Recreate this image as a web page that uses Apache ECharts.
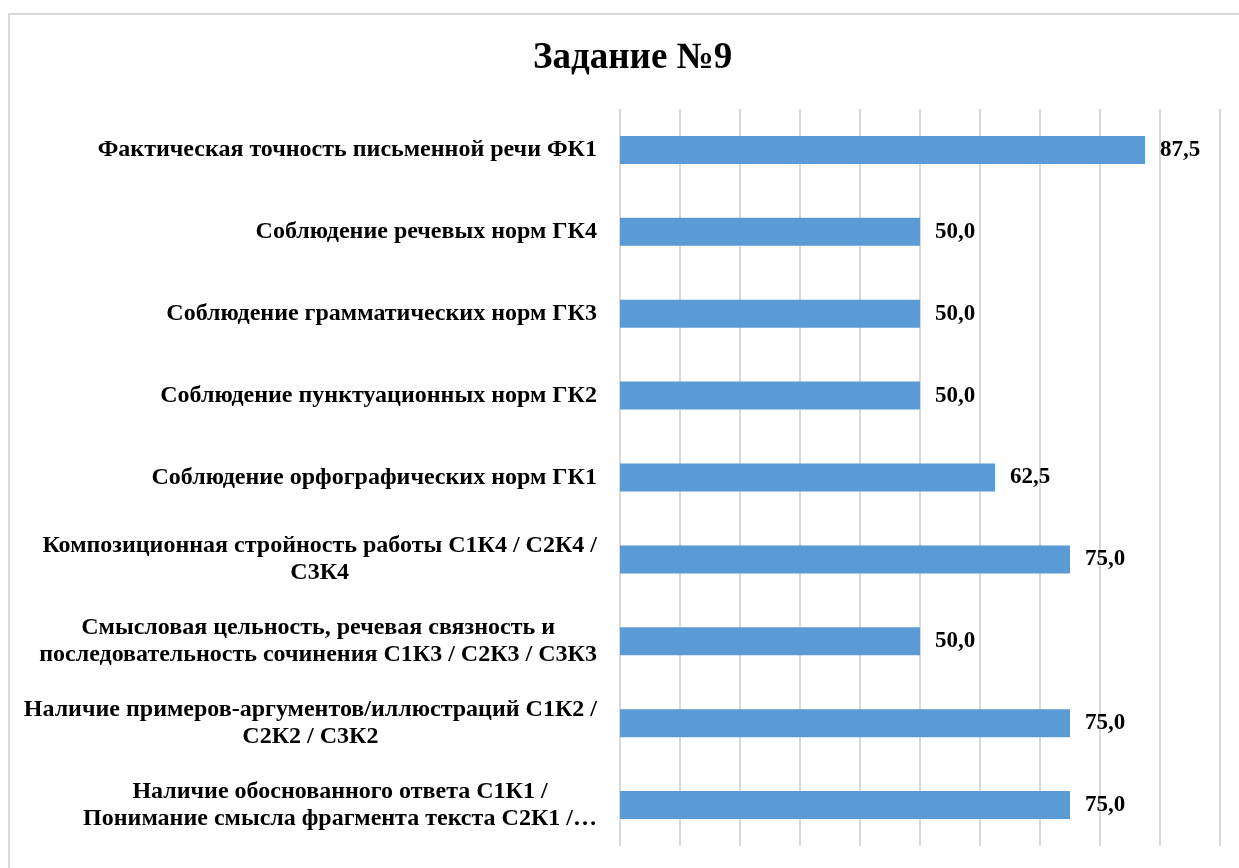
<!DOCTYPE html>
<html lang="ru">
<head>
    <meta charset="UTF-8">
    <title>Задание №9</title>
    <script src="https://cdn.jsdelivr.net/npm/echarts@6/dist/echarts.min.js"></script>
    <style>
        html, body { margin: 0; padding: 0; background: #fff; }
        #chart {
            position: absolute;
            left: 8px; top: 13px;
            width: 1240px; height: 870px;
            border: 2px solid #d9d9d9;
            box-sizing: border-box;
        }
        #main { width: 1239px; height: 868px; }
    </style>
</head>
<body>
    <div id="chart"></div>
    <div id="main" style="position:absolute;left:0;top:0;"></div>

    <script>
        // категории снизу вверх (как на оси)
        const categories = [
            'Наличие обоснованного ответа С1К1 /\nПонимание смысла фрагмента текста С2К1 /…',
            'Наличие примеров-аргументов/иллюстраций С1К2 /\nС2К2 / С3К2',
            'Смысловая цельность, речевая связность и\nпоследовательность сочинения С1К3 / С2К3 / С3К3',
            'Композиционная стройность работы С1К4 / С2К4 /\nС3К4',
            'Соблюдение орфографических норм ГК1',
            'Соблюдение пунктуационных норм ГК2',
            'Соблюдение грамматических норм ГК3',
            'Соблюдение речевых норм ГК4',
            'Фактическая точность письменной речи ФК1'
        ];
        const values = [75.0, 75.0, 50.0, 75.0, 62.5, 50.0, 50.0, 50.0, 87.5];

        const font = '"Liberation Serif", "Times New Roman", serif';

        const chart = echarts.init(document.getElementById('main'));
        chart.setOption({
            animation: false,
            title: {
                text: 'Задание №9',
                left: 528,
                top: 35,
                textStyle: { fontFamily: font, fontWeight: 'bold', fontSize: 37, color: '#000' }
            },
            grid: { left: 620, right: 19, top: 109, bottom: 22, containLabel: false },
            xAxis: {
                type: 'value',
                min: 0, max: 100, interval: 10,
                axisLabel: { show: false },
                axisLine: { show: false },
                axisTick: { show: false },
                splitLine: { lineStyle: { color: '#d9d9d9', width: 2 } }
            },
            yAxis: {
                type: 'category',
                data: categories,
                axisLine: { show: false },
                axisTick: { show: false },
                axisLabel: {
                    margin: 23,
                    align: 'right',
                    lineHeight: 27,
                    formatter: v => v.split('\n').map(l => '{c|' + l + '}').join('\n'),
                    rich: {
                        c: { align: 'center', fontFamily: font, fontWeight: 'bold', fontSize: 24, color: '#000', lineHeight: 27 }
                    }
                }
            },
            series: [{
                type: 'bar',
                data: values,
                barWidth: 28,
                itemStyle: { color: '#5b9bd5' },
                label: {
                    show: true,
                    position: 'right',
                    distance: 15,
                    fontFamily: font,
                    fontWeight: 'bold',
                    fontSize: 23,
                    color: '#000',
                    formatter: p => p.value.toFixed(1).replace('.', ',')
                }
            }]
        });
    </script>
</body>
</html>
